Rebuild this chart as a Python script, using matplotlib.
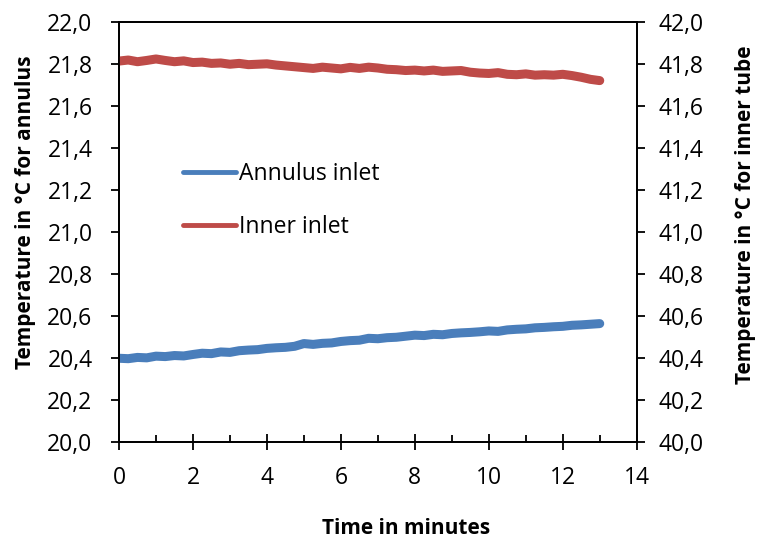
import matplotlib
matplotlib.use("Agg")
import matplotlib.pyplot as plt
from matplotlib.ticker import FuncFormatter, MultipleLocator

plt.rcParams['font.family'] = ['Open Sans', 'DejaVu Sans']

time_min = [0, 0.25, 0.5, 0.75, 1.0, 1.25, 1.5, 1.75, 2.0, 2.25, 2.5, 2.75,
            3.0, 3.25, 3.5, 3.75, 4.0, 4.25, 4.5, 4.75, 5.0, 5.25, 5.5, 5.75,
            6.0, 6.25, 6.5, 6.75, 7.0, 7.25, 7.5, 7.75, 8.0, 8.25, 8.5, 8.75,
            9.0, 9.25, 9.5, 9.75, 10.0, 10.25, 10.5, 10.75, 11.0, 11.25, 11.5,
            11.75, 12.0, 12.25, 12.5, 12.75, 13.0]

annulus_inlet = [20.400, 20.398, 20.404, 20.402, 20.410, 20.408, 20.413, 20.411,
                 20.418, 20.424, 20.422, 20.430, 20.428, 20.436, 20.439, 20.441,
                 20.447, 20.450, 20.452, 20.457, 20.470, 20.466, 20.471, 20.473,
                 20.480, 20.484, 20.486, 20.495, 20.493, 20.498, 20.500, 20.505,
                 20.510, 20.508, 20.514, 20.512, 20.518, 20.521, 20.523, 20.526,
                 20.530, 20.528, 20.535, 20.538, 20.540, 20.545, 20.547, 20.550,
                 20.552, 20.557, 20.559, 20.562, 20.565]

inner_inlet = [41.815, 41.820, 41.812, 41.818, 41.825, 41.818, 41.812, 41.816,
               41.808, 41.810, 41.804, 41.806, 41.800, 41.804, 41.798, 41.800,
               41.802, 41.796, 41.792, 41.788, 41.784, 41.780, 41.786, 41.782,
               41.778, 41.785, 41.780, 41.786, 41.782, 41.776, 41.774, 41.770,
               41.772, 41.768, 41.772, 41.766, 41.768, 41.770, 41.762, 41.758,
               41.756, 41.760, 41.752, 41.750, 41.754, 41.748, 41.750, 41.748,
               41.752, 41.746, 41.738, 41.728, 41.722]

blue = '#4a7ebb'
red = '#be4b48'
fs = 16.5
title_fs = 15

fig = plt.figure(figsize=(7.58, 5.42), dpi=100)
ax = fig.add_axes([0.157, 0.184, 0.683, 0.775])
ax2 = ax.twinx()

l1, = ax.plot(time_min, annulus_inlet, color=blue, linewidth=6.5,
              solid_capstyle='round', label='Annulus inlet')
l2, = ax2.plot(time_min, inner_inlet, color=red, linewidth=6.5,
               solid_capstyle='round', label='Inner inlet')

ax.set_xlim(0, 14)
ax.set_ylim(20.0, 22.0)
ax2.set_ylim(40.0, 42.0)
ax.xaxis.set_major_locator(MultipleLocator(2))
ax.xaxis.set_minor_locator(MultipleLocator(1))
ax.yaxis.set_major_locator(MultipleLocator(0.2))
ax2.yaxis.set_major_locator(MultipleLocator(0.2))

comma = FuncFormatter(lambda v, p: f"{v:.1f}".replace('.', ','))
ax.yaxis.set_major_formatter(comma)
ax2.yaxis.set_major_formatter(comma)

for a in (ax, ax2):
    for s in a.spines.values():
        s.set_linewidth(1.3)

ax.tick_params(axis='y', direction='out', length=6, width=1.3,
               labelsize=fs, pad=13)
ax2.tick_params(axis='y', direction='out', length=6, width=1.3,
                labelsize=fs, pad=10)
ax.tick_params(axis='x', which='major', direction='inout', length=12,
               width=1.3, labelsize=fs, pad=11)
ax.tick_params(axis='x', which='minor', direction='in', length=5, width=1.3)

# axis titles placed in figure pixels, like the Excel chart
fig.text(406 / 758, 1 - 529 / 542, 'Time in minutes', fontsize=title_fs,
         fontweight='bold', ha='center', va='center')
fig.text(26 / 758, 1 - 212 / 542, 'Temperature in °C for annulus',
         fontsize=title_fs, fontweight='bold', ha='center', va='center',
         rotation=90)
fig.text(746 / 758, 1 - 215 / 542, 'Temperature in °C for inner tube',
         fontsize=title_fs, fontweight='bold', ha='center', va='center',
         rotation=90)

leg = ax.legend([l1, l2], ['Annulus inlet', 'Inner inlet'],
                loc='upper left', bbox_to_anchor=(0.124, 0.668),
                frameon=False, fontsize=fs, handlelength=2.3,
                handletextpad=0.15, labelspacing=1.3, borderpad=0,
                borderaxespad=0)
for h in leg.legend_handles:
    h.set_linewidth(3.5)

fig.savefig('out.png', dpi=100)
